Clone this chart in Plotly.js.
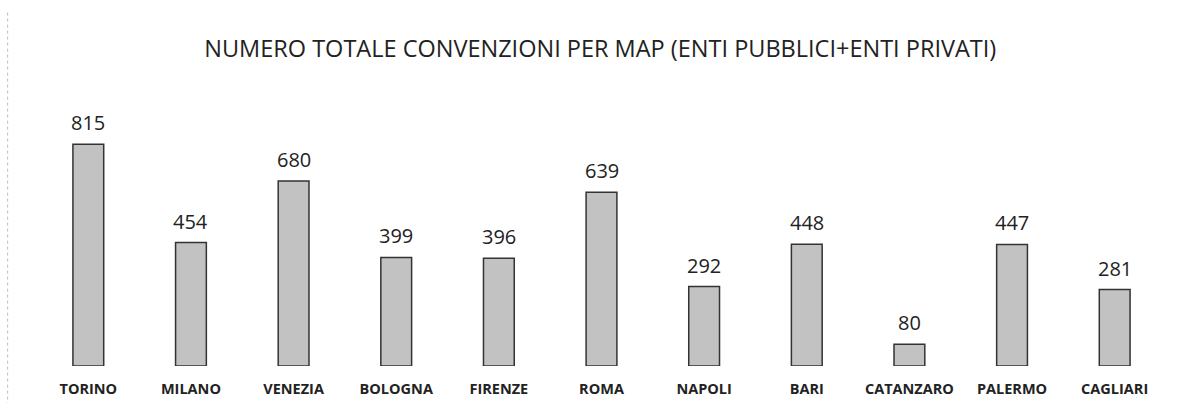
<!DOCTYPE html>
<html><head><meta charset="utf-8">
<script src="https://cdn.plot.ly/plotly-3.0.1.min.js"></script>
<style>html,body{margin:0;padding:0;background:#fff}#chart{width:1184px;height:403px}</style>
</head><body><div id="chart"></div>
<script>
const categories = ["TORINO","MILANO","VENEZIA","BOLOGNA","FIRENZE","ROMA","NAPOLI","BARI","CATANZARO","PALERMO","CAGLIARI"];
const values = [815,454,680,399,396,639,292,448,80,447,281];
const chartTitle = "NUMERO TOTALE CONVENZIONI PER MAP (ENTI PUBBLICI+ENTI PRIVATI)";

const trace = {
  type: 'bar', x: categories, y: values,
  marker: {color: '#c2c2c2', line: {color: '#333', width: 1.5}},
  hoverinfo: 'none'
};
const labels = categories.map((c, i) => ({
  x: c, y: values[i], xref: 'x', yref: 'y', text: String(values[i]),
  showarrow: false, yanchor: 'bottom', yshift: 6,
  font: {family: 'Open Sans, sans-serif', size: 20, color: '#222'}
}));
const layout = {
  width: 1184, height: 403,
  margin: {l: 37, r: 18, t: 94, b: 37},
  paper_bgcolor: '#fff', plot_bgcolor: '#fff',
  bargap: 0.7,
  title: {text: chartTitle, x: 0.507, xanchor: 'center', y: 0.88, yanchor: 'middle',
          font: {family: 'Open Sans, sans-serif', size: 23.5, color: '#222'}},
  xaxis: {showgrid: false, zeroline: false, showline: false, ticks: '', ticklabelstandoff: 12,
          tickfont: {family: 'Open Sans, sans-serif', size: 14.5, color: '#222', weight: 'bold'}},
  yaxis: {range: [0, 1000], visible: false, showgrid: false, zeroline: false},
  showlegend: false,
  annotations: labels,
  shapes: [{type: 'line', xref: 'paper', yref: 'paper', x0: -0.026, x1: -0.026, y0: -0.3, y1: 1.3,
            line: {color: '#bbb', width: 1, dash: 'dot'}}]
};
Plotly.newPlot('chart', [trace], layout, {displayModeBar: false, staticPlot: true});
</script></body></html>
